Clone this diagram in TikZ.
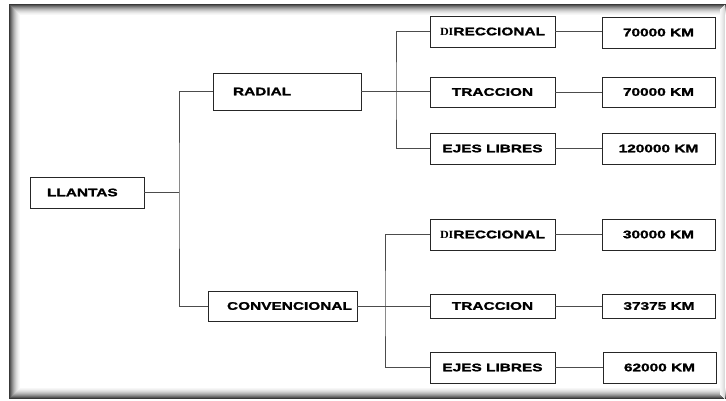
\documentclass[tikz,border=0pt]{standalone}
\usepackage{fontspec}
\setmainfont{Liberation Sans}[FakeStretch=1.4, BoldFeatures={FakeBold=1.6}]
\newfontfamily\dserif{Liberation Serif}[FakeStretch=1.1]
\tikzset{
  box/.style={draw=black!85, line width=0.9pt, inner sep=0pt, align=center,
    font=\fontsize{11}{13}\selectfont\bfseries},
  lbox/.style={box, align=left},
  conn/.style={draw=black!70, line width=0.9pt},
}
\begin{document}
\begin{tikzpicture}[x=1pt,y=1pt]
\useasboundingbox (0,0) rectangle (726,-400);
\fill[white] (0,0) rectangle (726,-400);
% frame with soft shadow
\foreach \i/\c in {0/78,1/66,2/55,3/45,4/36,5/28,6/21,7/15,8/10,9/6,10/3} {
  \draw[black!\c, line width=1pt] (9.5+\i,-398.5+\i) -- (9.5+\i,-4.5-\i) -- (726,-4.5-\i);
  \draw[black!\c, line width=1pt] (9.5+\i,-398.5+\i) -- (726,-398.5+\i);
}
\foreach \i/\c in {0/14,1/11,2/8,3/5,4/3} {
  \draw[black!\c, line width=1pt] (724.5-\i,-4.5-\i) -- (724.5-\i,-398.5+\i);
}

% nodes
\node[lbox, text width=80pt, inner xsep=17pt, minimum height=31pt] (llantas) at (87,-192.5) {LLANTAS};
\node[lbox, text width=108pt, inner xsep=20pt, minimum height=37pt] (radial) at (287,-91.5) {RADIAL};
\node[lbox, text width=111pt, inner xsep=19pt, minimum height=30pt] (conv) at (282.5,-306) {CONVENCIONAL};

\node[box, minimum width=125pt, minimum height=31pt] (dir1) at (492.5,-31.5) {{\dserif DI}RECCIONAL};
\node[box, minimum width=125pt, minimum height=30pt] (trac1) at (492.5,-92) {TRACCION};
\node[box, minimum width=125pt, minimum height=31pt] (ejes1) at (492.5,-148.5) {EJES LIBRES};
\node[box, minimum width=113pt, minimum height=31pt] (km1) at (658.5,-32.5) {70000 KM};
\node[box, minimum width=113pt, minimum height=30pt] (km2) at (658.5,-92) {70000 KM};
\node[box, minimum width=113pt, minimum height=31pt] (km3) at (658.5,-148.5) {120000 KM};

\node[box, minimum width=125pt, minimum height=31pt] (dir2) at (492.5,-234.5) {{\dserif DI}RECCIONAL};
\node[box, minimum width=125pt, minimum height=24pt] (trac2) at (492.5,-306) {TRACCION};
\node[box, minimum width=125pt, minimum height=31pt] (ejes2) at (492.5,-367.5) {EJES LIBRES};
\node[box, minimum width=113pt, minimum height=31pt] (km4) at (658.5,-234.5) {30000 KM};
\node[box, minimum width=113pt, minimum height=24pt] (km5) at (659,-306) {37375 KM};
\node[box, minimum width=113pt, minimum height=31pt] (km6) at (659.5,-367.5) {62000 KM};

% junctions
\coordinate (j1) at (179,-192.5);
\coordinate (j2) at (396,-92);
\coordinate (j3) at (385,-306);

% connectors
\draw[conn] (llantas.east) -- (j1);
\draw[conn] (radial.west) -| (j1) |- (conv.west);

\draw[conn] (radial.east) -- (radial.east -| trac1.west);
\draw[conn] (dir1.west) -| (j2) |- (ejes1.west);

\draw[conn] (conv.east) -- (conv.east -| trac2.west);
\draw[conn] (dir2.west) -| (j3) |- (ejes2.west);

\draw[conn] (dir1.east) -- (dir1.east -| km1.west);
\draw[conn] (trac1.east) -- (trac1.east -| km2.west);
\draw[conn] (ejes1.east) -- (ejes1.east -| km3.west);
\draw[conn] (dir2.east) -- (dir2.east -| km4.west);
\draw[conn] (trac2.east) -- (trac2.east -| km5.west);
\draw[conn] (ejes2.east) -- (ejes2.east -| km6.west);
\end{tikzpicture}
\end{document}
